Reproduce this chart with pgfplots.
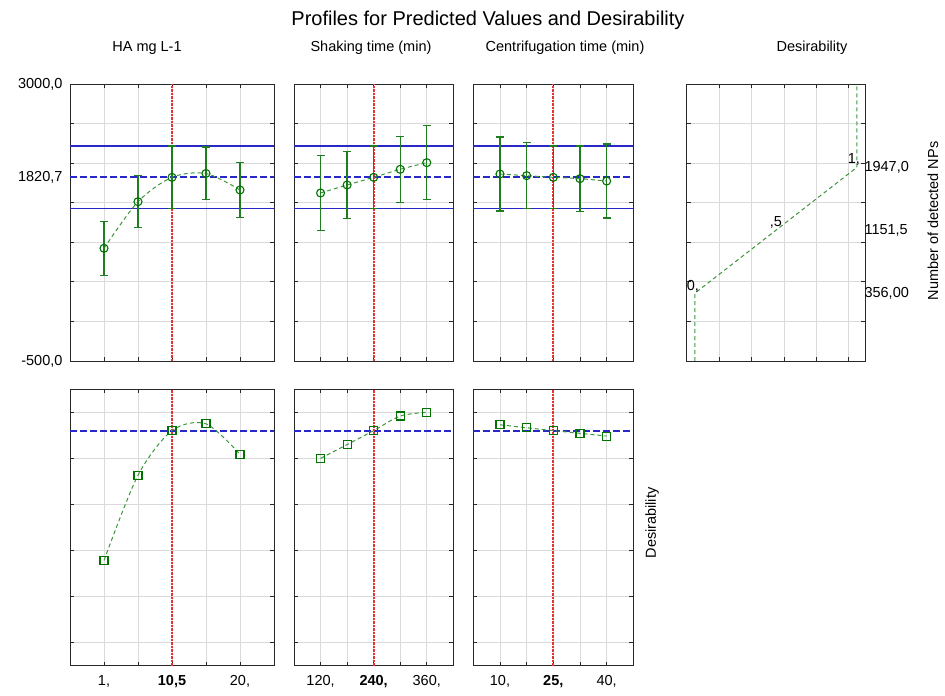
\documentclass[border=0pt]{standalone}
\usepackage{pgfplots}
\pgfplotsset{compat=1.18}
\usepackage{fontspec}
\setmainfont{Liberation Sans}
\definecolor{dg}{RGB}{0,115,0}
\definecolor{lg}{RGB}{60,150,60}
\definecolor{eb}{RGB}{30,125,30}
\definecolor{refblue}{RGB}{40,40,200}
\definecolor{refred}{RGB}{230,50,50}
\definecolor{gridc}{RGB}{218,218,218}
\definecolor{axc}{RGB}{40,40,40}
\newcommand{\fs}{\fontsize{14.5}{17}\selectfont}
\pgfplotsset{
 panel/.style={scale only axis, height=277pt, clip=false,
   axis line style={color=axc, line width=0.8pt},
   grid=major, grid style={color=gridc, line width=0.8pt},
   tick align=inside, major tick length=4pt, tick style={color=axc, line width=0.8pt},
   xtick pos=both, ytick pos=both, xticklabels={}, yticklabels={},
   ticklabel style={font=\fs},
   yticklabel style={xshift=-4pt},
   xticklabel style={yshift=-6pt}},
 top/.style={ymin=-500, ymax=3000, ytick={0,500,1000,1500,2000,2500}},
 bot/.style={ymin=-0.1, ymax=1.1, ytick={0,0.2,0.4,0.6,0.8,1.0}},
 hb/.style={color=refblue, line width=1.4pt},
 hd/.style={color=refblue, line width=1.8pt, dash pattern=on 7pt off 3pt},
 vr/.style={color=refred, line width=1.8pt, dash pattern=on 2.5pt off 1pt},
 cv/.style={color=lg, line width=1pt, dash pattern=on 4pt off 3pt, smooth, no markers},
 pts/.style={only marks, mark=o, mark size=4pt, color=dg, mark options={color=dg, line width=1.1pt},
   error bars/.cd, y dir=both, y explicit,
   error bar style={color=eb, line width=1.4pt},
   error mark options={rotate=90, mark size=4pt, color=eb, line width=1.3pt}},
 sq/.style={only marks, mark=square, mark size=4pt, color=dg, mark options={color=dg, line width=1.1pt}},
}
\begin{document}
\begin{tikzpicture}
\path[use as bounding box] (0,0) rectangle (945pt,-696pt);
\node[font=\fontsize{20}{24}\selectfont, anchor=base] at (488pt,-25pt) {Profiles for Predicted Values and Desirability};
\node[font=\fs, anchor=base] at (147pt,-51pt) {HA mg L-1};
\node[font=\fs, anchor=base] at (371pt,-51pt) {Shaking time (min)};
\node[font=\fs, anchor=base] at (565pt,-51pt) {Centrifugation time (min)};
\node[font=\fs, anchor=base] at (812pt,-51pt) {Desirability};
\node[font=\fs, rotate=90] at (933pt,-221pt) {Number of detected NPs};
\node[font=\fs, rotate=90] at (652pt,-523pt) {Desirability};

% ---------- top row ----------
\begin{axis}[panel, top, at={(70pt,-84pt)}, anchor=north west, width=204pt,
  xmin=-3.75, xmax=24.75, xtick={1,5.75,10.5,15.25,20},
  extra y ticks={-500,1820.7,3000}, extra y tick labels={{-500,0},{1820,7},{3000,0}},
  extra y tick style={grid=none, major tick length=0pt}]
\addplot[hb] coordinates {(-3.75,2217) (24.75,2217)};
\addplot[hb] coordinates {(-3.75,1425) (24.75,1425)};
\addplot[hd] coordinates {(-3.75,1820.7) (24.75,1820.7)};
\addplot[vr] coordinates {(10.5,-500) (10.5,3000)};
\addplot[cv] coordinates {(1,924) (5.75,1513) (10.5,1820.7) (15.25,1870) (20,1661)};
\addplot[pts] coordinates {(1,924) +- (0,341) (5.75,1513) +- (0,330) (10.5,1820.7) +- (0,396) (15.25,1870) +- (0,333) (20,1661) +- (0,345)};
\end{axis}

\begin{axis}[panel, top, at={(294pt,-84pt)}, anchor=north west, width=159.3pt,
  xmin=60, xmax=420, xtick={120,180,240,300,360}]
\addplot[hb] coordinates {(60,2217) (420,2217)};
\addplot[hb] coordinates {(60,1425) (420,1425)};
\addplot[hd] coordinates {(60,1820.7) (420,1820.7)};
\addplot[vr] coordinates {(240,-500) (240,3000)};
\addplot[cv] coordinates {(120,1623) (180,1724) (240,1820.7) (300,1922) (360,2006)};
\addplot[pts] coordinates {(120,1623) +- (0,470) (180,1724) +- (0,421) (240,1820.7) +- (0,396) (300,1922) +- (0,419) (360,2006) +- (0,467)};
\end{axis}

\begin{axis}[panel, top, at={(473.3pt,-84pt)}, anchor=north west, width=160pt,
  xmin=2.5, xmax=47.5, xtick={10,17.5,25,32.5,40}]
\addplot[hb] coordinates {(2.5,2217) (47.5,2217)};
\addplot[hb] coordinates {(2.5,1425) (47.5,1425)};
\addplot[hd] coordinates {(2.5,1820.7) (47.5,1820.7)};
\addplot[vr] coordinates {(25,-500) (25,3000)};
\addplot[cv] coordinates {(10,1863) (17.5,1842) (25,1820.7) (32.5,1804) (40,1774)};
\addplot[pts] coordinates {(10,1863) +- (0,467) (17.5,1842) +- (0,417) (25,1820.7) +- (0,396) (32.5,1804) +- (0,413) (40,1774) +- (0,467)};
\end{axis}

\begin{axis}[panel, top, at={(686.7pt,-84pt)}, anchor=north west, width=178.3pt,
  xmin=-0.05, xmax=1.05, xtick={0.15,0.35,0.55,0.75,0.95},
  yticklabel pos=right, yticklabel style={xshift=0pt},
  extra y ticks={356,1151.5,1947}, extra y tick labels={{356,00},{1151,5},{1947,0}},
  extra y tick style={grid=none, major tick length=0pt, yticklabel pos=right}]
\addplot[color=lg, line width=1pt, dash pattern=on 4pt off 3pt] coordinates {(0,-500) (0,356) (0.5,1151.5) (1,1947) (1,3000)};
\node[font=\fs, anchor=south, inner sep=1pt, xshift=-2pt] at (axis cs:0,356) {0,};
\node[font=\fs, anchor=south, inner sep=2pt] at (axis cs:0.5,1151.5) {,5};
\node[font=\fs, anchor=south, inner sep=2pt, xshift=-3pt] at (axis cs:1,1947) {1,};
\end{axis}

% ---------- bottom row ----------
\begin{axis}[panel, bot, at={(70pt,-389.3pt)}, anchor=north west, width=204pt, height=276.4pt,
  xmin=-3.75, xmax=24.75, xtick={1,5.75,10.5,15.25,20},
  xticklabels={{1,},{},{\textbf{10,5}},{},{20,}},
  extra y ticks={0.92059}, extra y tick labels={{,92059}},
  extra y tick style={grid=none, major tick length=0pt}]
\addplot[hd] coordinates {(-3.75,0.92059) (24.75,0.92059)};
\addplot[vr] coordinates {(10.5,-0.1) (10.5,1.1)};
\addplot[cv] coordinates {(1,0.357) (5.75,0.727) (10.5,0.9206) (15.25,0.950) (20,0.818)};
\addplot[sq] coordinates {(1,0.357) (5.75,0.727) (10.5,0.9206) (15.25,0.950) (20,0.818)};
\end{axis}

\begin{axis}[panel, bot, at={(294pt,-389.3pt)}, anchor=north west, width=159.3pt, height=276.4pt,
  xmin=60, xmax=420, xtick={120,180,240,300,360},
  xticklabels={{120,},{},{\textbf{240,}},{},{360,}}]
\addplot[hd] coordinates {(60,0.92059) (420,0.92059)};
\addplot[vr] coordinates {(240,-0.1) (240,1.1)};
\addplot[cv] coordinates {(120,0.800) (180,0.860) (240,0.9206) (300,0.984) (360,1.0)};
\addplot[sq] coordinates {(120,0.800) (180,0.860) (240,0.9206) (300,0.984) (360,1.0)};
\end{axis}

\begin{axis}[panel, bot, at={(473.3pt,-389.3pt)}, anchor=north west, width=160pt, height=276.4pt,
  xmin=2.5, xmax=47.5, xtick={10,17.5,25,32.5,40},
  xticklabels={{10,},{},{\textbf{25,}},{},{40,}}]
\addplot[hd] coordinates {(2.5,0.92059) (47.5,0.92059)};
\addplot[vr] coordinates {(25,-0.1) (25,1.1)};
\addplot[cv] coordinates {(10,0.946) (17.5,0.933) (25,0.9206) (32.5,0.909) (40,0.897)};
\addplot[sq] coordinates {(10,0.946) (17.5,0.933) (25,0.9206) (32.5,0.909) (40,0.897)};
\end{axis}
\end{tikzpicture}
\end{document}
